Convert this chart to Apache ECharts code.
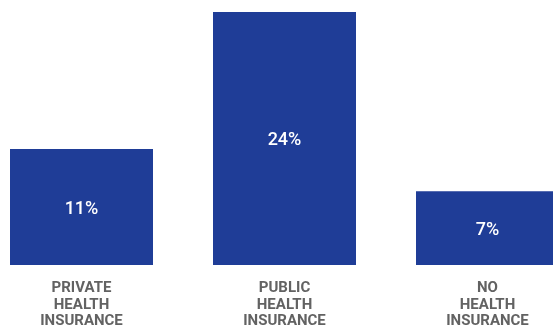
<!DOCTYPE html>
<html><head><meta charset="utf-8">
<script src="https://cdn.jsdelivr.net/npm/echarts@6/dist/echarts.min.js"></script>
<style>html,body{margin:0;padding:0;background:#fff}#c{width:553px;height:331px}</style>
</head><body><div id="c"></div>
<script>
const categories = ["PRIVATE\nHEALTH\nINSURANCE", "PUBLIC\nHEALTH\nINSURANCE", "NO\nHEALTH\nINSURANCE"];
const values = [11, 24, 7];
const chart = echarts.init(document.getElementById('c'));
chart.setOption({
  animation: false,
  grid: {left: -20, width: 609, top: 12, bottom: 66, containLabel: false, outerBoundsMode: 'none'},
  xAxis: {
    type: 'category', data: categories,
    axisLine: {show: false}, axisTick: {show: false},
    axisLabel: {color: '#626262', fontFamily: 'Roboto', fontWeight: 'bold', fontSize: 15, lineHeight: 16.5, margin: 15, interval: 0}
  },
  yAxis: {type: 'value', min: 0, max: 24, show: false, splitLine: {show: false}},
  series: [{
    type: 'bar', data: values, barWidth: 143,
    itemStyle: {color: '#1f3d97'},
    label: {show: true, position: 'inside', offset: [0, 2], color: '#fff', fontFamily: 'Roboto', fontWeight: 500, fontSize: 18, formatter: '{c}%'}
  }]
});
</script></body></html>
